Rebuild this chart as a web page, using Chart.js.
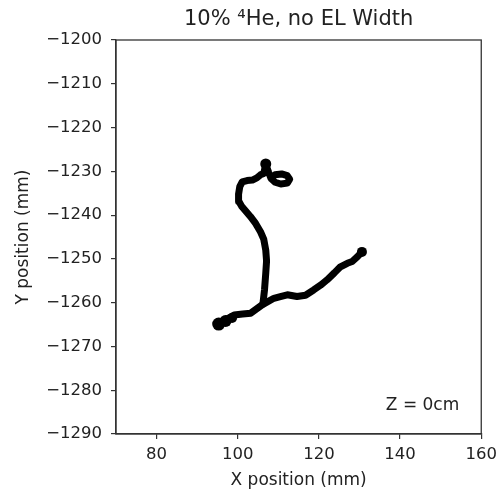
<!DOCTYPE html>
<html>
<head>
<meta charset="utf-8">
<script src="https://cdn.jsdelivr.net/npm/chart.js@4/dist/chart.umd.min.js"></script>
<style>
  body { margin: 0; background: #fff; }
</style>
</head>
<body>
<canvas id="trackChart" width="503" height="494"></canvas>
<script>
// reconstructed track, main arm (bottom-left blob -> right end)
const mainX = [95.0, 97.2, 99.1, 101.2, 103.2, 106.0, 108.9, 110.5, 112.2, 114.6, 116.7, 118.7, 120.4, 122.0, 123.8, 125.3, 127.0, 128.2, 129.5, 130.6];
const mainY = [-1264.7, -1263.8, -1262.8, -1262.6, -1262.4, -1260.5, -1259.0, -1258.6, -1258.2, -1258.6, -1258.3, -1257.1, -1256.0, -1254.8, -1253.2, -1251.8, -1251.0, -1250.6, -1249.5, -1248.4];

// branch going up from the junction to the small loop
const branchX = [106.2, 106.6, 106.9, 107.1, 106.9, 106.4, 105.6, 104.4, 103.1, 101.9, 100.9, 100.3, 100.2, 100.5, 101.1, 102.3, 103.6, 104.7, 105.6, 106.4, 106.9, 107.6, 108.2, 109.2, 110.8, 112.2, 112.8, 112.2, 110.6, 109.2, 108.4];
const branchY = [-1260.3, -1257.0, -1253.3, -1250.5, -1248.0, -1245.5, -1243.8, -1241.9, -1240.3, -1239.0, -1237.9, -1236.9, -1235.2, -1233.5, -1232.4, -1232.1, -1232.0, -1231.5, -1230.8, -1230.5, -1228.4, -1230.2, -1231.6, -1230.8, -1230.6, -1231.0, -1231.8, -1232.7, -1232.9, -1232.5, -1231.8];

// heavier deposits along the track
const blobX = [95.3, 97.0, 98.6, 130.6, 106.9];
const blobY = [-1264.9, -1264.2, -1263.5, -1248.4, -1228.3];
const blobR = [6.5, 6, 5, 5, 5.5];

const xTicks = [80, 100, 120, 140, 160];
const yTicks = [-1290, -1280, -1270, -1260, -1250, -1240, -1230, -1220, -1210, -1200];

const titleText = '10% \u2074He, no EL Width';
const zLabel = 'Z = 0cm';

const toPoints = (xs, ys) => xs.map((x, i) => ({ x: x, y: ys[i] }));
const minus = v => String(v).replace('-', '\u2212');

// full box around the plot, title over the plot area, and the Z label
const framePlugin = {
    id: 'frame',
    afterDraw(chart) {
        const { ctx, chartArea: a } = chart;
        ctx.save();
        ctx.strokeStyle = '#333';
        ctx.lineWidth = 1.3;
        ctx.strokeRect(a.left, a.top, a.right - a.left, a.bottom - a.top);
        ctx.fillStyle = '#222';
        ctx.textBaseline = 'middle';
        ctx.font = '21px "DejaVu Sans"';
        ctx.textAlign = 'center';
        ctx.fillText(titleText, (a.left + a.right) / 2, a.top - 20);
        ctx.font = '17px "DejaVu Sans"';
        ctx.textAlign = 'right';
        ctx.fillText(zLabel, a.right - 22, a.bottom - 28);
        ctx.restore();
    }
};

const tickGrid = {
    display: true,
    drawOnChartArea: false,
    drawTicks: true,
    tickLength: 5,
    color: '#333',
    lineWidth: 1.2
};

const ctx = document.getElementById('trackChart').getContext('2d');
const trackChart = new Chart(ctx, {
    type: 'scatter',
    data: {
        datasets: [{
            data: toPoints(mainX, mainY),
            showLine: true,
            borderColor: '#000',
            borderWidth: 7,
            borderCapStyle: 'round',
            borderJoinStyle: 'round',
            pointRadius: 0
        }, {
            data: toPoints(branchX, branchY),
            showLine: true,
            borderColor: '#000',
            borderWidth: 7,
            borderCapStyle: 'round',
            borderJoinStyle: 'round',
            pointRadius: 0
        }, {
            data: toPoints(blobX, blobY),
            backgroundColor: '#000',
            borderWidth: 0,
            pointRadius: blobR
        }]
    },
    options: {
        responsive: false,
        animation: false,
        layout: { padding: { left: 12, right: 21, top: 40, bottom: 0 } },
        plugins: {
            legend: { display: false },
            tooltip: { enabled: false },
            title: { display: false }
        },
        scales: {
            x: {
                type: 'linear',
                min: 70,
                max: 160,
                afterBuildTicks: s => { s.ticks = xTicks.map(v => ({ value: v })); },
                afterFit: s => { s.height = 60; },
                grid: tickGrid,
                border: { color: '#333', width: 1.3 },
                ticks: {
                    color: '#222',
                    font: { family: 'DejaVu Sans', size: 16.5 },
                    padding: 6,
                    maxRotation: 0
                },
                title: {
                    display: true,
                    text: 'X position (mm)',
                    color: '#222',
                    font: { family: 'DejaVu Sans', size: 17 },
                    padding: { top: 0, bottom: 3 }
                }
            },
            y: {
                type: 'linear',
                min: -1290,
                max: -1200,
                afterBuildTicks: s => { s.ticks = yTicks.map(v => ({ value: v })); },
                afterFit: s => { s.width = 104; },
                grid: tickGrid,
                border: { color: '#333', width: 1.3 },
                ticks: {
                    color: '#222',
                    font: { family: 'DejaVu Sans', size: 16.5 },
                    padding: 9,
                    callback: v => minus(v)
                },
                title: {
                    display: true,
                    text: 'Y position (mm)',
                    color: '#222',
                    font: { family: 'DejaVu Sans', size: 17 },
                    padding: { top: 1, bottom: 4 }
                }
            }
        }
    },
    plugins: [framePlugin]
});
</script>
</body>
</html>
